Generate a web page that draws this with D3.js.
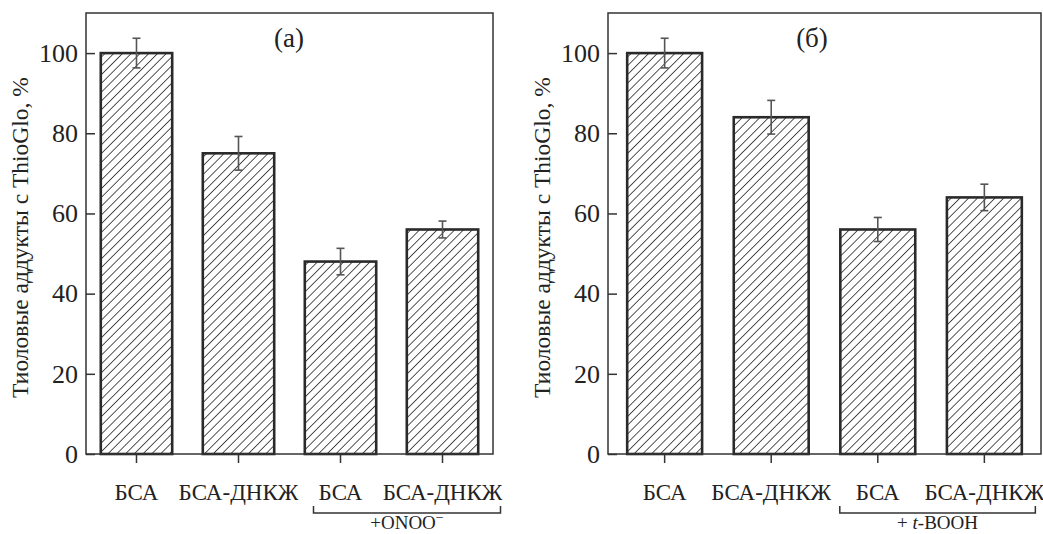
<!DOCTYPE html>
<html>
<head>
<meta charset="utf-8">
<script src="https://cdn.jsdelivr.net/npm/d3@7"></script>
<style>
  body { margin: 0; background: #fff; }
  text { font-family: "Liberation Serif", "Times New Roman", serif; fill: #222; }
</style>
</head>
<body>
<script>
// data
var categories = ["БСА", "БСА-ДНКЖ", "БСА", "БСА-ДНКЖ"];
var valuesA = [100, 75, 48, 56];
var errorsA = [3.7, 4.2, 3.3, 2.1];
var valuesB = [100, 84, 56, 64];
var errorsB = [3.7, 4.2, 3.0, 3.3];
var yTicks = [0, 20, 40, 60, 80, 100];

var svg = d3.select("body").append("svg")
  .attr("width", 1043)
  .attr("height", 534);

// hatch pattern
var defs = svg.append("defs");
defs.append("pattern")
  .attr("id", "hatch")
  .attr("patternUnits", "userSpaceOnUse")
  .attr("width", 6.2)
  .attr("height", 6.2)
  .attr("patternTransform", "rotate(45)")
  .append("line")
  .attr("x1", 0).attr("y1", 0)
  .attr("x2", 0).attr("y2", 6.2)
  .attr("stroke", "#2a2a2a")
  .attr("stroke-width", 1.6);

function drawPanel(opt) {
  var x = d3.scaleBand()
    .domain(d3.range(categories.length))
    .range([opt.left, opt.right])
    .paddingInner(opt.padInner)
    .paddingOuter(opt.padOuter);

  var y = d3.scaleLinear().domain([0, 110]).range([454, 13]);

  var g = svg.append("g");

  // bars
  g.selectAll("rect.bar")
    .data(opt.values)
    .enter().append("rect")
    .attr("class", "bar")
    .attr("x", function(d, i) { return x(i); })
    .attr("y", function(d) { return y(d); })
    .attr("width", x.bandwidth())
    .attr("height", function(d) { return y(0) - y(d); })
    .attr("fill", "url(#hatch)")
    .attr("stroke", "#2a2a2a")
    .attr("stroke-width", 2.6);

  // error bars
  var eb = g.selectAll("g.err")
    .data(opt.values)
    .enter().append("g")
    .attr("class", "err")
    .attr("stroke", "#555")
    .attr("stroke-width", 1.6);

  eb.append("line")
    .attr("x1", function(d, i) { return x(i) + x.bandwidth() / 2; })
    .attr("x2", function(d, i) { return x(i) + x.bandwidth() / 2; })
    .attr("y1", function(d, i) { return y(d + opt.errors[i]); })
    .attr("y2", function(d, i) { return y(d - opt.errors[i]); });
  [1, -1].forEach(function(s) {
    eb.append("line")
      .attr("x1", function(d, i) { return x(i) + x.bandwidth() / 2 - 4; })
      .attr("x2", function(d, i) { return x(i) + x.bandwidth() / 2 + 4; })
      .attr("y1", function(d, i) { return y(d + s * opt.errors[i]); })
      .attr("y2", function(d, i) { return y(d + s * opt.errors[i]); });
  });

  // frame
  g.append("rect")
    .attr("x", opt.left)
    .attr("y", y(110))
    .attr("width", opt.right - opt.left)
    .attr("height", y(0) - y(110))
    .attr("fill", "none")
    .attr("stroke", "#333")
    .attr("stroke-width", 1.5);

  // y axis (ticks inward)
  var yAxis = g.append("g")
    .attr("transform", "translate(" + opt.left + ",0)")
    .call(d3.axisRight(y).tickValues(yTicks).tickSize(9).tickFormat(""));
  yAxis.select(".domain").remove();
  yAxis.selectAll("line").attr("stroke", "#333").attr("stroke-width", 1.5);

  g.selectAll("text.ytick")
    .data(yTicks)
    .enter().append("text")
    .attr("class", "ytick")
    .attr("x", opt.left - 8)
    .attr("y", function(d) { return y(d); })
    .attr("dy", "0.34em")
    .attr("text-anchor", "end")
    .style("font-size", "26px")
    .text(function(d) { return d; });

  // x axis (ticks outward)
  var xAxis = g.append("g")
    .attr("transform", "translate(0," + y(0) + ")")
    .call(d3.axisBottom(x).tickSize(9).tickFormat(function(i) { return categories[i]; }));
  xAxis.select(".domain").remove();
  xAxis.selectAll("line").attr("stroke", "#333").attr("stroke-width", 1.5);
  xAxis.selectAll("text")
    .attr("y", 38)
    .attr("dy", "0.35em")
    .style("font-size", "23px")
    .style("font-family", "'Liberation Serif', serif")
    .attr("fill", "#222");

  // y title
  g.append("text")
    .attr("transform", "translate(" + (opt.left - 58) + "," + ((y(0) + y(110)) / 2 + 4) + ") rotate(-90)")
    .attr("text-anchor", "middle")
    .style("font-size", "23.5px")
    .text("Тиоловые аддукты с ThioGlo, %");

  // panel label
  g.append("text")
    .attr("x", opt.labelX)
    .attr("y", 47)
    .attr("text-anchor", "middle")
    .style("font-size", "27px")
    .text(opt.label);

  // bracket under treated group
  var bx0 = x(2) + x.bandwidth() / 2 - opt.brLeft;
  var bx1 = x(3) + x.bandwidth() / 2 + opt.brRight;
  g.append("path")
    .attr("d", "M" + bx0 + ",506 V513 H" + bx1 + " V506")
    .attr("fill", "none")
    .attr("stroke", "#333")
    .attr("stroke-width", 1.5);

  var t = g.append("text")
    .attr("x", (bx0 + bx1) / 2)
    .attr("y", 529)
    .attr("text-anchor", "middle")
    .style("font-size", "19px");
  opt.group(t);
}

drawPanel({
  left: 86, right: 493, padInner: 0.3, padOuter: 0.145,
  values: valuesA, errors: errorsA,
  label: "(а)", labelX: 289,
  brLeft: 27, brRight: 58,
  group: function(t) {
    t.append("tspan").text("+ONOO");
    t.append("tspan").attr("dy", -7).style("font-size", "14px").text("−");
  }
});

drawPanel({
  left: 608, right: 1041, padInner: 0.297, padOuter: 0.18,
  values: valuesB, errors: errorsB,
  label: "(б)", labelX: 812,
  brLeft: 38, brRight: 51,
  group: function(t) {
    t.append("tspan").text("+ ");
    t.append("tspan").style("font-style", "italic").text("t");
    t.append("tspan").text("-BOOH");
  }
});
</script>
</body>
</html>
